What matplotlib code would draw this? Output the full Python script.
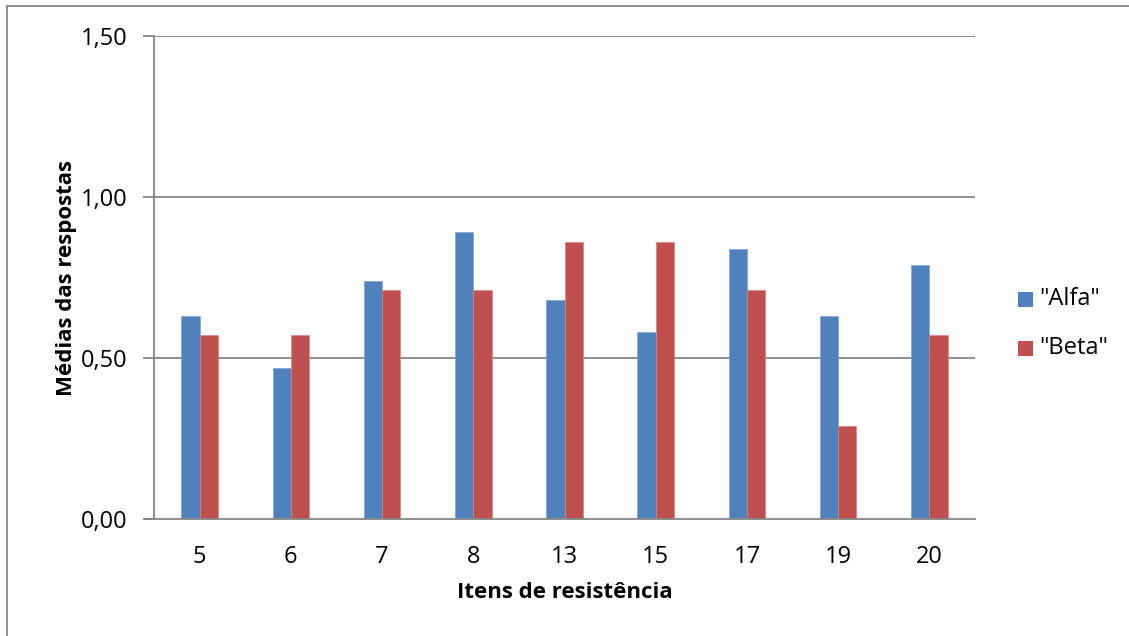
import matplotlib
matplotlib.use("Agg")
import matplotlib.pyplot as plt
import numpy as np
from matplotlib.patches import Rectangle

itens = ["5", "6", "7", "8", "13", "15", "17", "19", "20"]
alfa = [0.63, 0.47, 0.74, 0.89, 0.68, 0.58, 0.84, 0.63, 0.79]
beta = [0.57, 0.57, 0.71, 0.71, 0.86, 0.86, 0.71, 0.29, 0.57]
series_names = ['"Alfa"', '"Beta"']
yticks = [0.0, 0.5, 1.0, 1.5]
ytick_labels = ["0,00", "0,50", "1,00", "1,50"]

plt.rcParams['font.family'] = ['Open Sans', 'DejaVu Sans']

W, H = 1129, 636
fig = plt.figure(figsize=(W / 100, H / 100), dpi=100)
ax = fig.add_axes([154 / W, 1 - 519 / H, (975 - 154) / W, (519 - 36) / H])

grid_c = "#868686"
blue = "#4F81BD"
red = "#C0504D"
colors = [blue, red]

x = np.arange(len(itens))
bw = 0.2
ax.bar(x - bw / 2, alfa, width=bw, color=blue, edgecolor="#7FA3D0", linewidth=0.5, zorder=3)
ax.bar(x + bw / 2, beta, width=bw, color=red, edgecolor="#D78683", linewidth=0.5, zorder=3)

ax.set_xlim(-0.5, len(itens) - 0.5)
ax.set_ylim(0, 1.5)
ax.set_yticks(yticks)
ax.set_yticklabels(ytick_labels, fontsize=17)
ax.set_xticks(x)
ax.set_xticklabels(itens, fontsize=17)
ax.tick_params(axis="x", length=0, pad=19)
ax.tick_params(axis="y", length=8, width=1.3, color=grid_c, pad=11)

for yv in yticks[1:]:
    ax.axhline(yv, color=grid_c, linewidth=1.3, zorder=1)

for s in ["top", "right"]:
    ax.spines[s].set_visible(False)
ax.spines["left"].set_color(grid_c)
ax.spines["left"].set_linewidth(1.3)
ax.spines["bottom"].set_color(grid_c)
ax.spines["bottom"].set_linewidth(1.3)
ax.spines["bottom"].set_bounds(-0.5 - 9 / 91.2, len(itens) - 0.5)
ax.spines["bottom"].set_zorder(4)

ax.set_ylabel("Médias das respostas", fontsize=16, fontweight="bold")
ax.yaxis.set_label_coords((77 - 154) / 821, 0.5)
ax.set_xlabel("Itens de resistência", fontsize=16, fontweight="bold")
ax.xaxis.set_label_coords(0.5, (519 - 582) / 483)

# legend entries: coloured square + series name
leg_y = [299.5, 348.5]
for name, col, yp in zip(series_names, colors, leg_y):
    fig.patches.append(Rectangle((1018 / W, 1 - (yp + 7.5) / H), 15 / W, 15 / H,
                                 transform=fig.transFigure, facecolor=col, edgecolor="none"))
    fig.text(1039 / W, 1 - yp / H, name, fontsize=17, va="center", ha="left")

# outer chart border (left and top edges)
fig.patches.append(Rectangle((7 / W, -0.1), 1.2, 1 - 6 / H + 0.1, transform=fig.transFigure,
                             fill=False, edgecolor=grid_c, linewidth=1.3))

fig.savefig("out.png", dpi=100, facecolor="white")
